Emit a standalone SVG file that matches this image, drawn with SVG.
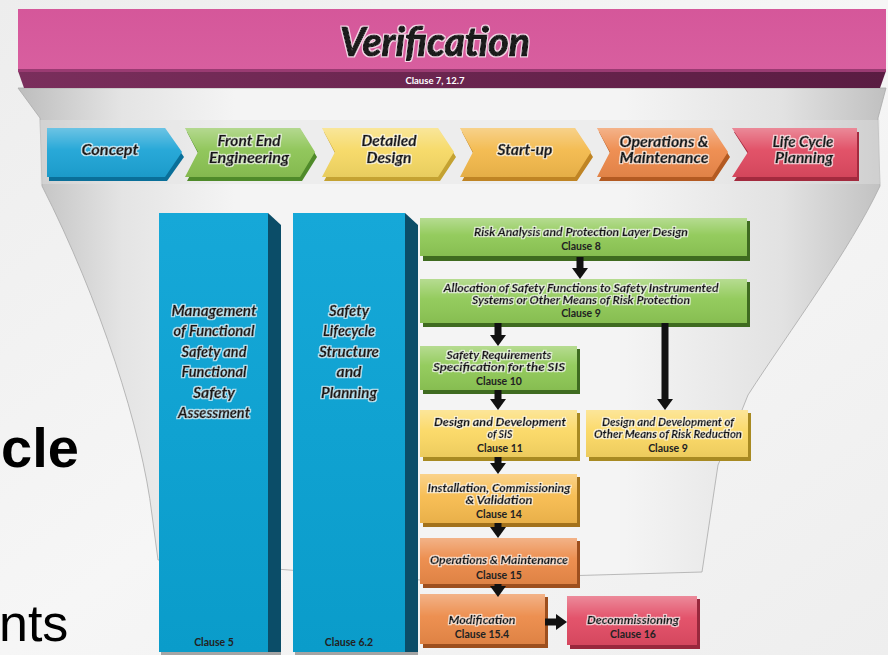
<svg xmlns="http://www.w3.org/2000/svg" width="888" height="655" viewBox="0 0 888 655">
<defs>
<style>
.t{font-family:Lato,"Open Sans","Liberation Sans",sans-serif;font-weight:700;font-style:italic;fill:#1a1a1a;text-anchor:middle;stroke:#1a1a1a;stroke-width:0.55px;filter:url(#halo)}
.c{font-family:Lato,"Open Sans","Liberation Sans",sans-serif;font-weight:700;font-size:10.5px;fill:#222;text-anchor:middle}
.ch{font-size:14.5px}
.bx{font-size:11px;stroke-width:0.4px}
.col{font-size:14.5px}
.arr{fill:none;stroke:#111;stroke-width:7;marker-end:url(#ah)}
</style>
<filter id="halo" x="-10%" y="-40%" width="120%" height="180%">
<feMorphology in="SourceAlpha" operator="dilate" radius="1.2" result="d"/>
<feFlood flood-color="#ffffff" flood-opacity="0.75"/>
<feComposite in2="d" operator="in" result="w"/>
<feMerge><feMergeNode in="w"/><feMergeNode in="SourceGraphic"/></feMerge>
</filter>
<marker id="ah" markerUnits="userSpaceOnUse" markerWidth="11" markerHeight="16" refX="0" refY="8" orient="auto">
<path d="M0,0 L11,8 L0,16 Z" fill="#111"/>
</marker>
<linearGradient id="bg" x1="0" y1="0" x2="1" y2="1">
<stop offset="0" stop-color="#ededed"/><stop offset="0.5" stop-color="#f6f6f6"/><stop offset="1" stop-color="#eeeeee"/>
</linearGradient>
<linearGradient id="fun" x1="0" y1="0" x2="1" y2="0">
<stop offset="0" stop-color="#bdbdbd"/><stop offset="0.12" stop-color="#e4e4e4"/><stop offset="0.25" stop-color="#f4f4f4"/><stop offset="0.7" stop-color="#f4f4f4"/><stop offset="0.88" stop-color="#e2e2e2"/><stop offset="1" stop-color="#c0c0c0"/>
</linearGradient>
<linearGradient id="pink" x1="0" y1="0" x2="0" y2="1">
<stop offset="0" stop-color="#d5579a"/><stop offset="1" stop-color="#d85f9f"/>
</linearGradient>
<linearGradient id="pinkd" x1="0" y1="0" x2="1" y2="0">
<stop offset="0" stop-color="#7a2e5c"/><stop offset="1" stop-color="#5a1c42"/>
</linearGradient>
<linearGradient id="colg" x1="0" y1="0" x2="0" y2="1">
<stop offset="0" stop-color="#16a8d8"/><stop offset="1" stop-color="#0a9cca"/>
</linearGradient>
<linearGradient id="gl" x1="0" y1="0" x2="0" y2="1">
<stop offset="0" stop-color="#ffffff" stop-opacity="0.35"/><stop offset="0.45" stop-color="#ffffff" stop-opacity="0.05"/><stop offset="1" stop-color="#000000" stop-opacity="0.06"/>
</linearGradient>
</defs>

<!-- background -->
<rect x="0" y="0" width="888" height="655" fill="url(#bg)"/>
<text x="1" y="467" font-family="'Liberation Sans',Arial,sans-serif" font-weight="700" font-size="56" fill="#000">cle</text>
<text x="-1" y="641" font-family="'Liberation Sans',Arial,sans-serif" font-size="52" fill="#000">nts</text>

<!-- funnel -->
<path d="M18,88 L886,88 L878,118 L880,186 C850,250 790,330 748,395 L742,410 L718,465 L702,572 L420,580 L158,560 L152,515 C142,430 100,300 42,186 L40,118 Z" fill="url(#fun)" stroke="#a9a9a9" stroke-width="0.8"/>
<rect x="40" y="120" width="840" height="64" fill="#e4e4e4" opacity="0.4"/>

<!-- verification banner -->
<g id="verification">
<rect x="18" y="9" width="868" height="62" fill="url(#pink)"/>
<path d="M18,71 L886,71 L880,88 L24,88 Z" fill="url(#pinkd)"/>
<rect x="18" y="69" width="868" height="3" fill="#9a3b72"/>
<text x="435" y="56" class="t" font-size="40" textLength="190" lengthAdjust="spacingAndGlyphs" style="stroke-width:1.2px">Verification</text>
<text x="435" y="84" font-family="Lato,'Liberation Sans',sans-serif" font-weight="700" font-size="9.5" fill="#ffffff" text-anchor="middle">Clause 7, 12.7</text>
</g>

<!-- phase chevrons -->
<g id="concept">
<path d="M49,132 H167 L184,157 L167,181 H49 Z" fill="#0a6f99"/>
<path d="M47,128 H165 L182,152 L165,177 H47 Z" fill="#1da4d6"/>
<path d="M47,128 H165 L182,152 L165,177 H47 Z" fill="url(#gl)"/>
<text x="110" y="155" class="t ch" textLength="57" lengthAdjust="spacingAndGlyphs">Concept</text>
</g>
<g id="front-end">
<path d="M187,132 H302 L317,157 L302,181 H187 L200,157 Z" fill="#4f8a2a"/>
<path d="M185,128 H300 L315,152 L300,177 H185 L198,152 Z" fill="#8cc454"/>
<path d="M185,128 H300 L315,152 L300,177 H185 L198,152 Z" fill="url(#gl)"/>
<text x="249" y="146" class="t ch" textLength="63" lengthAdjust="spacingAndGlyphs">Front End</text>
<text x="249" y="163" class="t ch" textLength="80" lengthAdjust="spacingAndGlyphs">Engineering</text>
</g>
<g id="detailed-design">
<path d="M324,132 H440 L456,157 L440,181 H324 L337,157 Z" fill="#c4a232"/>
<path d="M322,128 H438 L454,152 L438,177 H322 L335,152 Z" fill="#f6d964"/>
<path d="M322,128 H438 L454,152 L438,177 H322 L335,152 Z" fill="url(#gl)"/>
<text x="389" y="146" class="t ch" textLength="55" lengthAdjust="spacingAndGlyphs">Detailed</text>
<text x="389" y="163" class="t ch" textLength="45" lengthAdjust="spacingAndGlyphs">Design</text>
</g>
<g id="start-up">
<path d="M462,132 H577 L593,157 L577,181 H462 L475,157 Z" fill="#bf8424"/>
<path d="M460,128 H575 L591,152 L575,177 H460 L473,152 Z" fill="#f3b94b"/>
<path d="M460,128 H575 L591,152 L575,177 H460 L473,152 Z" fill="url(#gl)"/>
<text x="525" y="155" class="t ch" textLength="55" lengthAdjust="spacingAndGlyphs">Start-up</text>
</g>
<g id="operations-maintenance">
<path d="M599,132 H714 L730,157 L714,181 H599 L612,157 Z" fill="#b35a22"/>
<path d="M597,128 H712 L728,152 L712,177 H597 L610,152 Z" fill="#ee8a4b"/>
<path d="M597,128 H712 L728,152 L712,177 H597 L610,152 Z" fill="url(#gl)"/>
<text x="664" y="147" class="t ch" textLength="89" lengthAdjust="spacingAndGlyphs">Operations &amp;</text>
<text x="664" y="163" class="t ch" textLength="89" lengthAdjust="spacingAndGlyphs">Maintenance</text>
</g>
<g id="life-cycle-planning">
<path d="M734,132 H859 V181 H734 L750,157 Z" fill="#a32a3e"/>
<path d="M732,128 H857 V177 H732 L748,152 Z" fill="#e04a61"/>
<path d="M732,128 H857 V177 H732 L748,152 Z" fill="url(#gl)"/>
<text x="803" y="147" class="t ch" textLength="61" lengthAdjust="spacingAndGlyphs">Life Cycle</text>
<text x="804" y="163" class="t ch" textLength="58" lengthAdjust="spacingAndGlyphs">Planning</text>
</g>

<!-- columns -->
<g id="management-functional-safety">
<path d="M268,213 L281,225 L281,652 L268,652 Z" fill="#0b4d68"/>
<rect x="159" y="213" width="109" height="439" fill="url(#colg)"/>
<rect x="161" y="652" width="120" height="3" fill="#555" opacity="0.5"/>
<text class="t col" x="214" y="316" textLength="85" lengthAdjust="spacingAndGlyphs">Management</text>
<text class="t col" x="214" y="336" textLength="81" lengthAdjust="spacingAndGlyphs">of Functional</text>
<text class="t col" x="214" y="357" textLength="65" lengthAdjust="spacingAndGlyphs">Safety and</text>
<text class="t col" x="214" y="377" textLength="65" lengthAdjust="spacingAndGlyphs">Functional</text>
<text class="t col" x="214" y="398" textLength="42" lengthAdjust="spacingAndGlyphs">Safety</text>
<text class="t col" x="214" y="418" textLength="72" lengthAdjust="spacingAndGlyphs">Assessment</text>
<text class="c" x="214" y="646">Clause 5</text>
</g>
<g id="safety-lifecycle-structure">
<path d="M405,213 L418,225 L418,652 L405,652 Z" fill="#0b4d68"/>
<rect x="293" y="213" width="112" height="439" fill="url(#colg)"/>
<rect x="295" y="652" width="123" height="3" fill="#555" opacity="0.5"/>
<text class="t col" x="349" y="316" textLength="40" lengthAdjust="spacingAndGlyphs">Safety</text>
<text class="t col" x="349" y="336" textLength="52" lengthAdjust="spacingAndGlyphs">Lifecycle</text>
<text class="t col" x="349" y="357" textLength="60" lengthAdjust="spacingAndGlyphs">Structure</text>
<text class="t col" x="349" y="377" textLength="25" lengthAdjust="spacingAndGlyphs">and</text>
<text class="t col" x="349" y="398" textLength="56" lengthAdjust="spacingAndGlyphs">Planning</text>
<text class="c" x="349" y="646">Clause 6.2</text>
</g>

<!-- lifecycle boxes -->
<g id="risk-analysis">
<rect x="423" y="221" width="327" height="40" fill="#3f6b20"/>
<rect x="420" y="218" width="327" height="38" fill="#8fc956"/>
<rect x="420" y="218" width="327" height="38" fill="url(#gl)"/>
<text class="t bx" x="581" y="236" textLength="214" lengthAdjust="spacingAndGlyphs">Risk Analysis and Protection Layer Design</text>
<text class="c" x="581" y="250">Clause 8</text>
</g>
<g id="allocation">
<rect x="423" y="282" width="327" height="45" fill="#3f6b20"/>
<rect x="420" y="279" width="327" height="44" fill="#8fc956"/>
<rect x="420" y="279" width="327" height="44" fill="url(#gl)"/>
<text class="t bx" x="581" y="292" textLength="275" lengthAdjust="spacingAndGlyphs">Allocation of Safety Functions to Safety Instrumented</text>
<text class="t bx" x="581" y="304" textLength="218" lengthAdjust="spacingAndGlyphs">Systems or Other Means of Risk Protection</text>
<text class="c" x="581" y="317">Clause 9</text>
</g>
<g id="safety-requirements">
<rect x="423" y="349" width="157" height="45" fill="#3f6b20"/>
<rect x="420" y="346" width="157" height="44" fill="#8fc956"/>
<rect x="420" y="346" width="157" height="44" fill="url(#gl)"/>
<text class="t bx" x="499" y="359" textLength="105" lengthAdjust="spacingAndGlyphs">Safety Requirements</text>
<text class="t bx" x="499" y="371" textLength="132" lengthAdjust="spacingAndGlyphs">Specification for the SIS</text>
<text class="c" x="499" y="385">Clause 10</text>
</g>
<g id="design-sis">
<rect x="423" y="413" width="157" height="48" fill="#a88a22"/>
<rect x="420" y="410" width="157" height="47" fill="#fbd863"/>
<rect x="420" y="410" width="157" height="47" fill="url(#gl)"/>
<text class="t bx" x="500" y="426" textLength="132" lengthAdjust="spacingAndGlyphs">Design and Development</text>
<text class="t bx" x="500" y="438" textLength="25" lengthAdjust="spacingAndGlyphs">of SIS</text>
<text class="c" x="500" y="452">Clause 11</text>
</g>
<g id="design-other-means">
<rect x="589" y="413" width="162" height="48" fill="#a88a22"/>
<rect x="586" y="410" width="162" height="47" fill="#fbd863"/>
<rect x="586" y="410" width="162" height="47" fill="url(#gl)"/>
<text class="t bx" x="668" y="426" textLength="132" lengthAdjust="spacingAndGlyphs">Design and Development of</text>
<text class="t bx" x="668" y="438" textLength="148" lengthAdjust="spacingAndGlyphs">Other Means of Risk Reduction</text>
<text class="c" x="668" y="452">Clause 9</text>
</g>
<g id="installation">
<rect x="423" y="477" width="157" height="50" fill="#a3721c"/>
<rect x="420" y="474" width="157" height="49" fill="#f7bb4e"/>
<rect x="420" y="474" width="157" height="49" fill="url(#gl)"/>
<text class="t bx" x="499" y="492" textLength="143" lengthAdjust="spacingAndGlyphs">Installation, Commissioning</text>
<text class="t bx" x="499" y="504" textLength="67" lengthAdjust="spacingAndGlyphs">&amp; Validation</text>
<text class="c" x="499" y="518">Clause 14</text>
</g>
<g id="operations-maintenance-box">
<rect x="423" y="541" width="157" height="47" fill="#9d4f1e"/>
<rect x="420" y="538" width="157" height="46" fill="#ec8a48"/>
<rect x="420" y="538" width="157" height="46" fill="url(#gl)"/>
<text class="t bx" x="499" y="564" textLength="138" lengthAdjust="spacingAndGlyphs">Operations &amp; Maintenance</text>
<text class="c" x="499" y="579">Clause 15</text>
</g>
<g id="modification">
<rect x="423" y="597" width="125" height="51" fill="#9d4f1e"/>
<rect x="420" y="594" width="125" height="50" fill="#ec8a48"/>
<rect x="420" y="594" width="125" height="50" fill="url(#gl)"/>
<text class="t bx" x="482" y="624" textLength="67" lengthAdjust="spacingAndGlyphs">Modification</text>
<text class="c" x="482" y="638">Clause 15.4</text>
</g>
<g id="decommissioning">
<rect x="570" y="599" width="130" height="50" fill="#99283d"/>
<rect x="567" y="596" width="130" height="49" fill="#e24b64"/>
<rect x="567" y="596" width="130" height="49" fill="url(#gl)"/>
<text class="t bx" x="633" y="624" textLength="92" lengthAdjust="spacingAndGlyphs">Decommissioning</text>
<text class="c" x="633" y="638">Clause 16</text>
</g>

<!-- connectors -->
<g id="connectors">
<path class="arr" d="M580,257 V268"/>
<path class="arr" d="M498,323 V335"/>
<path class="arr" d="M665,323 V399"/>
<path class="arr" d="M498,390 V399"/>
<path class="arr" d="M498,457 V463"/>
<path class="arr" d="M498,523 V527"/>
<path class="arr" d="M498,584 V586"/>
<path class="arr" d="M545,622 H556"/>
</g>
</svg>
